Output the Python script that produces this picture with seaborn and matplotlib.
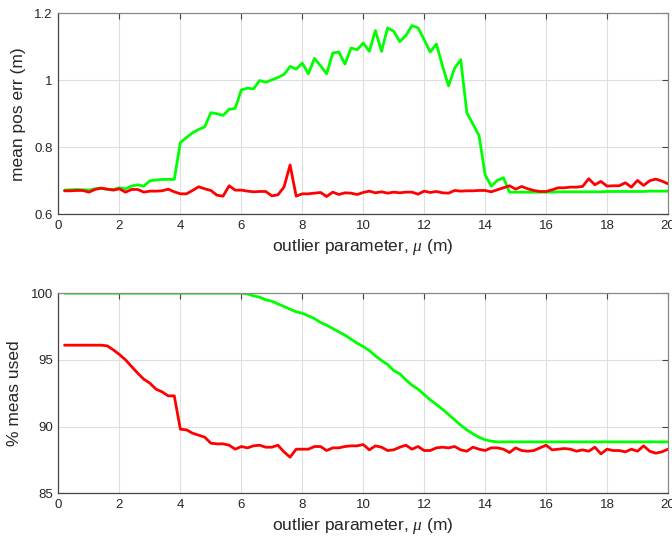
import numpy as np
import pandas as pd
import matplotlib
matplotlib.use("Agg")
import matplotlib.pyplot as plt
import seaborn as sns
from matplotlib.ticker import FuncFormatter

# ---- data ----
mu = [round(0.2 * i, 1) for i in range(1, 101)]

err_green = [
    0.672, 0.673, 0.674, 0.673, 0.672, 0.676, 0.678, 0.674, 0.674, 0.679,
    0.676, 0.684, 0.688, 0.684, 0.700, 0.702, 0.704, 0.704, 0.704, 0.814,
    0.829, 0.843, 0.853, 0.861, 0.903, 0.900, 0.895, 0.913, 0.916, 0.971,
    0.976, 0.974, 0.999, 0.994, 1.001, 1.008, 1.017, 1.041, 1.033, 1.051,
    1.019, 1.065, 1.043, 1.019, 1.081, 1.084, 1.048, 1.096, 1.091, 1.111,
    1.086, 1.148, 1.086, 1.156, 1.146, 1.115, 1.133, 1.163, 1.156, 1.121,
    1.084, 1.108, 1.043, 0.983, 1.036, 1.061, 0.903, 0.869, 0.835, 0.718,
    0.684, 0.701, 0.709, 0.666, 0.666, 0.666, 0.666, 0.666, 0.666, 0.666,
    0.666, 0.667, 0.667, 0.667, 0.667, 0.667, 0.667, 0.667, 0.667, 0.668,
    0.668, 0.668, 0.668, 0.668, 0.668, 0.668, 0.669, 0.669, 0.669, 0.669,
]

err_red = [
    0.670, 0.670, 0.671, 0.671, 0.666, 0.674, 0.678, 0.675, 0.672, 0.676,
    0.666, 0.674, 0.674, 0.666, 0.669, 0.669, 0.670, 0.675, 0.667, 0.661,
    0.661, 0.671, 0.682, 0.676, 0.671, 0.657, 0.654, 0.685, 0.672, 0.672,
    0.669, 0.667, 0.668, 0.668, 0.655, 0.658, 0.681, 0.747, 0.654, 0.661,
    0.661, 0.663, 0.665, 0.653, 0.666, 0.659, 0.664, 0.663, 0.659, 0.665,
    0.669, 0.664, 0.667, 0.663, 0.666, 0.664, 0.666, 0.666, 0.660, 0.669,
    0.665, 0.668, 0.664, 0.663, 0.671, 0.669, 0.670, 0.670, 0.671, 0.671,
    0.667, 0.673, 0.679, 0.685, 0.675, 0.683, 0.676, 0.671, 0.668, 0.668,
    0.673, 0.679, 0.679, 0.681, 0.681, 0.683, 0.706, 0.688, 0.698, 0.684,
    0.685, 0.685, 0.694, 0.681, 0.701, 0.686, 0.700, 0.705, 0.699, 0.691,
]

used_green = [100.0] * 30 + [
    99.95, 99.8, 99.7, 99.5, 99.4, 99.2, 99.0, 98.8, 98.6, 98.5,
    98.3, 98.1, 97.8, 97.6, 97.35, 97.1, 96.85, 96.55, 96.25, 96.0,
    95.7, 95.3, 94.95, 94.65, 94.2, 93.95, 93.5, 93.1, 92.8, 92.4,
    92.0, 91.65, 91.3, 90.9, 90.5, 90.1, 89.75, 89.45, 89.2, 89.0,
    88.9, 88.85,
] + [88.85] * 28

used_red = [
    96.1, 96.1, 96.1, 96.1, 96.1, 96.1, 96.1, 96.05, 95.75, 95.4,
    95.0, 94.5, 94.0, 93.55, 93.25, 92.8, 92.6, 92.3, 92.3, 89.8,
    89.75, 89.5, 89.35, 89.2, 88.75, 88.7, 88.7, 88.6, 88.3, 88.5,
    88.4, 88.55, 88.6, 88.45, 88.45, 88.6, 88.1, 87.7, 88.3, 88.3,
    88.3, 88.5, 88.5, 88.2, 88.4, 88.4, 88.5, 88.55, 88.55, 88.65,
    88.25, 88.55, 88.45, 88.2, 88.25, 88.45, 88.6, 88.3, 88.5, 88.2,
    88.2, 88.4, 88.45, 88.4, 88.5, 88.25, 88.15, 88.45, 88.3, 88.2,
    88.4, 88.4, 88.3, 88.05, 88.4, 88.2, 88.15, 88.2, 88.4, 88.6,
    88.25, 88.3, 88.35, 88.3, 88.15, 88.25, 88.15, 88.45, 87.95, 88.3,
    88.2, 88.2, 88.1, 88.3, 88.15, 88.55, 88.15, 88.0, 88.1, 88.3,
]

x_ticks = list(range(0, 21, 2))
top_yticks = [0.6, 0.8, 1.0, 1.2]
bot_yticks = [85, 90, 95, 100]
xlabel = r"outlier parameter, $\mu$ (m)"
top_ylabel = "mean pos err (m)"
bot_ylabel = "% meas used"

GREEN = "#00ff00"
RED = "#ff0000"

# ---- style ----
sns.set_theme(style="whitegrid")
plt.rcParams["font.family"] = ["Liberation Sans", "DejaVu Sans"]
plt.rcParams["mathtext.fontset"] = "custom"
plt.rcParams["mathtext.it"] = "Liberation Serif:italic"

fig = plt.figure(figsize=(6.72, 5.48), dpi=100)
ax1 = fig.add_axes([0.087, 0.609, 0.907, 0.367])
ax2 = fig.add_axes([0.087, 0.100, 0.907, 0.365])

top_df = pd.DataFrame({"mu": mu + mu, "val": err_green + err_red,
                       "s": ["g"] * len(mu) + ["r"] * len(mu)})
bot_df = pd.DataFrame({"mu": mu + mu, "val": used_green + used_red,
                       "s": ["g"] * len(mu) + ["r"] * len(mu)})

for ax, df, yt, ylab, ylim in [
    (ax1, top_df, top_yticks, top_ylabel, (0.6, 1.2)),
    (ax2, bot_df, bot_yticks, bot_ylabel, (85, 100)),
]:
    sns.lineplot(data=df, x="mu", y="val", hue="s", ax=ax,
                 palette={"g": GREEN, "r": RED}, linewidth=2.0,
                 legend=False, estimator=None, sort=False)
    ax.set_xlim(0, 20)
    ax.set_ylim(*ylim)
    ax.set_xticks(x_ticks)
    ax.set_yticks(yt)
    ax.yaxis.set_major_formatter(FuncFormatter(lambda v, p: f"{v:g}"))
    ax.set_xlabel(xlabel, fontsize=12.5, color="#262626", labelpad=4)
    ax.set_ylabel(ylab, fontsize=12.5, color="#262626", labelpad=6)
    ax.grid(True, color="#dedede", linewidth=0.8)
    ax.set_facecolor("white")
    ax.tick_params(axis="both", which="both", direction="in", length=4,
                   width=0.8, color="#444444", labelsize=9.5,
                   labelcolor="#262626", top=True, right=True, pad=4)
    for side, sp in ax.spines.items():
        sp.set_visible(True)
        sp.set_linewidth(0.9)
        sp.set_color("#444444" if side in ("left", "bottom") else "#888888")

fig.savefig("out.png", dpi=100, facecolor="white")
